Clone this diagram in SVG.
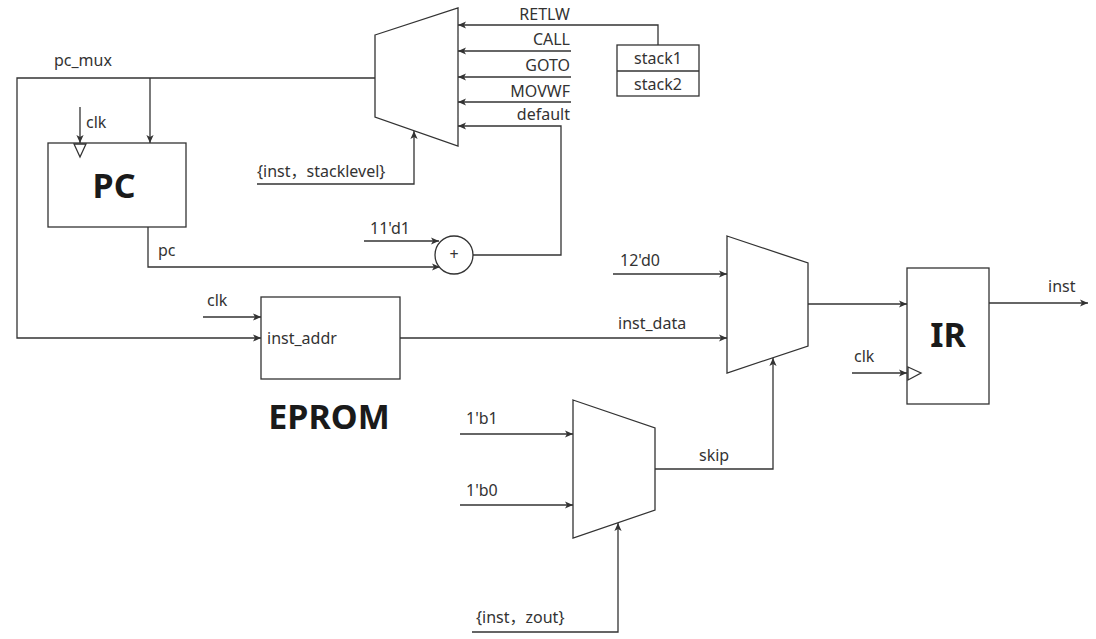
<svg xmlns="http://www.w3.org/2000/svg" width="1096" height="639" viewBox="0 0 1096 639">
<defs>
<marker id="arr" viewBox="0 0 10 10" refX="10" refY="5" markerWidth="8" markerHeight="8" markerUnits="userSpaceOnUse" orient="auto">
<path d="M0,0.5 L10,5 L0,9.5 L2.5,5 Z" fill="#333"/>
</marker>
<style>
.ln{fill:none;stroke:#333;stroke-width:1.3}
.ar{fill:none;stroke:#333;stroke-width:1.3;marker-end:url(#arr)}
.bx{fill:#fff;stroke:#333;stroke-width:1.3}
.t{font-family:"Noto Sans","Noto Sans CJK SC",sans-serif;font-size:16px;fill:#333}
.r{text-anchor:end}
.b{font-family:"Noto Sans","Noto Sans CJK SC",sans-serif;font-size:34px;font-weight:bold;fill:#1a1a1a;text-anchor:middle}
</style>
</defs>
<rect width="1096" height="639" fill="#fff"/>

<g id="connectors">
<path class="ar" d="M658,45 V25 H458"/>
<path class="ar" d="M571,51 H458"/>
<path class="ar" d="M571,77 H458"/>
<path class="ar" d="M571,102 H458"/>
<path class="ar" d="M473,255 H561 V126 H458"/>
<path class="ar" d="M257,184 H414 V131"/>
<path class="ar" d="M375,78 H17 V338 H261"/>
<path class="ar" d="M150,78 V143"/>
<path class="ar" d="M80,107 V143"/>
<path class="ar" d="M148,227 V267 H440"/>
<path class="ar" d="M364,241 H439"/>
<path class="ar" d="M203,317 H261"/>
<path class="ar" d="M400,338 H727"/>
<path class="ar" d="M613,274 H727"/>
<path class="ar" d="M808,304 H907"/>
<path class="ar" d="M852,373 H907"/>
<path class="ar" d="M989,303 H1088"/>
<path class="ar" d="M460,434 H573"/>
<path class="ar" d="M460,505 H573"/>
<path class="ar" d="M655,469 H773 V358"/>
<path class="ar" d="M472,632 H618 V523"/>
</g>

<g id="mux-top">
<polygon class="bx" points="375,35 458,8 458,146 375,117"/>
</g>
<g id="stack">
<rect class="bx" x="617" y="45" width="82" height="51"/>
<line class="ln" x1="617" y1="71" x2="699" y2="71"/>
<text class="t" x="658" y="64" text-anchor="middle">stack1</text>
<text class="t" x="658" y="90" text-anchor="middle">stack2</text>
</g>
<g id="labels-top">
<text class="t r" x="570" y="20">RETLW</text>
<text class="t r" x="570" y="45">CALL</text>
<text class="t r" x="570" y="71">GOTO</text>
<text class="t r" x="570" y="97">MOVWF</text>
<text class="t r" x="570" y="120">default</text>
<text class="t" x="257" y="177">{inst，stacklevel}</text>
<text class="t" x="54" y="66">pc_mux</text>
</g>

<g id="pc">
<rect class="bx" x="48" y="143" width="138" height="84"/>
<polygon class="bx" points="74,144 86,144 80,157"/>
<text class="b" x="114" y="198">PC</text>
<text class="t" x="86" y="128">clk</text>
<text class="t" x="158" y="256">pc</text>
</g>

<g id="adder">
<ellipse class="bx" cx="454" cy="255" rx="19" ry="19"/>
<text class="t" x="454" y="260" text-anchor="middle" font-size="12">+</text>
<text class="t" x="370" y="234">11'd1</text>
</g>

<g id="eprom">
<rect class="bx" x="261" y="297" width="139" height="82"/>
<text class="t" x="267" y="344">inst_addr</text>
<text class="t" x="207" y="306">clk</text>
<text class="b" x="329" y="429">EPROM</text>
</g>

<g id="mux-mid">
<polygon class="bx" points="727,236 808,263 808,346 727,373"/>
<text class="t" x="618" y="329">inst_data</text>
<text class="t" x="620" y="266">12'd0</text>
</g>

<g id="ir">
<rect class="bx" x="907" y="268" width="82" height="136"/>
<polygon class="bx" points="908,367 921,373 908,380"/>
<text class="b" x="948" y="347">IR</text>
<text class="t" x="854" y="362">clk</text>
<text class="t" x="1048" y="292">inst</text>
</g>

<g id="mux-skip">
<polygon class="bx" points="573,400 655,428 655,510 573,538"/>
<text class="t" x="466" y="424">1'b1</text>
<text class="t" x="466" y="496">1'b0</text>
<text class="t" x="699" y="461">skip</text>
<text class="t" x="476" y="623">{inst，zout}</text>
</g>
</svg>
